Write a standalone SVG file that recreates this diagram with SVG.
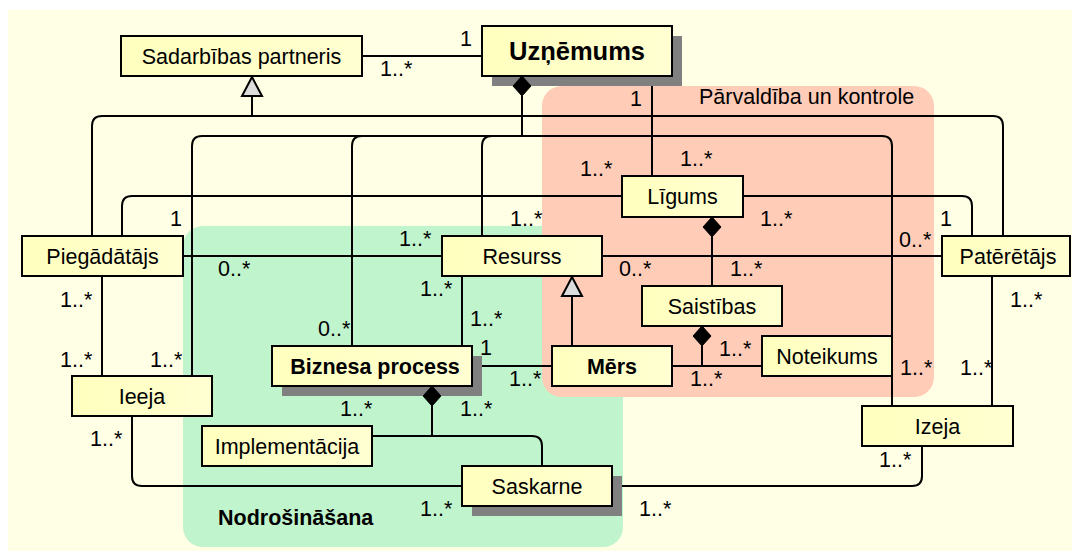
<svg xmlns="http://www.w3.org/2000/svg" width="1072" height="551" viewBox="0 0 1072 551">
<defs>
<linearGradient id="boxg" x1="0" y1="0" x2="1" y2="0">
<stop offset="0" stop-color="#FFFFBE"/>
<stop offset="1" stop-color="#FFFFD2"/>
</linearGradient>
</defs>
<style>
text{font-family:"Liberation Sans",Arial,Helvetica,sans-serif;fill:#000}
.lbl{font-size:21.5px}
.nt{font-size:21.5px;text-anchor:middle}
.bold{font-weight:bold}
.box{fill:url(#boxg);stroke:#000;stroke-width:2}
.shadow{fill:#808080}
.ln{fill:none;stroke:#000;stroke-width:2}
.dia{fill:#000;stroke:#000;stroke-width:1}
.tri{fill:#DCDCDC;stroke:#000;stroke-width:2}
</style>
<rect x="8" y="10" width="1064" height="541" fill="#FFFFE5"/>
<g id="region-nodrosinasana">
<rect x="183" y="226" width="440" height="321" rx="20" fill="#C0F4CC"/>
<text x="218" y="525" class="lbl bold">Nodrošināšana</text>
</g>
<g id="region-parvaldiba">
<rect x="542" y="86" width="392" height="311" rx="20" fill="#FFCCB8"/>
<text x="699" y="104" class="lbl">Pārvaldība un kontrole</text>
</g>
<g id="connectors">
<path class="ln" d="M362,56 H482"/>
<path class="ln" d="M252,96 V116"/>
<path class="ln" d="M252,116 H102 Q92,116 92,126 V236"/>
<path class="ln" d="M252,116 H993 Q1003,116 1003,126 V236"/>
<path class="ln" d="M522,96 V136"/>
<path class="ln" d="M522,136 H202 Q192,136 192,146 V376"/>
<path class="ln" d="M522,136 H362 Q352,136 352,146 V346"/>
<path class="ln" d="M522,136 H492 Q482,136 482,146 V236"/>
<path class="ln" d="M522,136 H882 Q892,136 892,146 V406"/>
<path class="ln" d="M652,76 V176"/>
<path class="ln" d="M622,196 H132 Q122,196 122,206 V236"/>
<path class="ln" d="M743,196 H962 Q972,196 972,206 V236"/>
<path class="ln" d="M183,256 H442"/>
<path class="ln" d="M602,256 H942"/>
<path class="ln" d="M102,276 V376"/>
<path class="ln" d="M462,276 V346"/>
<path class="ln" d="M572,296 V346"/>
<path class="ln" d="M472,366 H552"/>
<path class="ln" d="M712,237 V286"/>
<path class="ln" d="M702,346 V366"/>
<path class="ln" d="M672,366 H762"/>
<path class="ln" d="M992,276 V406"/>
<path class="ln" d="M432,406 V436"/>
<path class="ln" d="M372,436 H532 Q542,436 542,446 V466"/>
<path class="ln" d="M132,416 V476 Q132,486 142,486 H462"/>
<path class="ln" d="M612,486 H912 Q922,486 922,476 V446"/>
</g>
<g id="node-sadarbibas-partneris">
<rect class="box" x="121" y="36" width="241" height="40"/>
<text class="nt" x="241.5" y="63.5">Sadarbības partneris</text>
</g>
<g id="node-uznemums">
<rect class="shadow" x="492" y="36" width="190" height="50"/>
<rect class="box" x="482" y="26" width="190" height="50"/>
<text class="nt bold" x="577" y="60" style="font-size:25.5px">Uzņēmums</text>
</g>
<g id="node-ligums">
<rect class="box" x="622" y="176" width="121" height="41"/>
<text class="nt" x="682.5" y="204">Līgums</text>
</g>
<g id="node-piegadatajs">
<rect class="box" x="22" y="236" width="161" height="40"/>
<text class="nt" x="102.5" y="264">Piegādātājs</text>
</g>
<g id="node-resurss">
<rect class="box" x="442" y="236" width="160" height="40"/>
<text class="nt" x="522" y="264">Resurss</text>
</g>
<g id="node-pateretajs">
<rect class="box" x="942" y="236" width="128" height="40"/>
<text class="nt" x="1008" y="264">Patērētājs</text>
</g>
<g id="node-saistibas">
<rect class="box" x="642" y="286" width="140" height="40"/>
<text class="nt" x="712" y="314">Saistības</text>
</g>
<g id="node-noteikums">
<rect class="box" x="762" y="336" width="130" height="40"/>
<text class="nt" x="827" y="364">Noteikums</text>
</g>
<g id="node-mers">
<rect class="box" x="552" y="346" width="120" height="40"/>
<text class="nt bold" x="612" y="374">Mērs</text>
</g>
<g id="node-biznesa-process">
<rect class="shadow" x="282" y="356" width="200" height="40"/>
<rect class="box" x="272" y="346" width="200" height="40"/>
<text class="nt bold" x="375" y="374">Biznesa process</text>
</g>
<g id="node-ieeja">
<rect class="box" x="72" y="376" width="140" height="40"/>
<text class="nt" x="142" y="404">Ieeja</text>
</g>
<g id="node-implementacija">
<rect class="box" x="202" y="426" width="170" height="40"/>
<text class="nt" x="287" y="454">Implementācija</text>
</g>
<g id="node-saskarne">
<rect class="shadow" x="472" y="476" width="150" height="40"/>
<rect class="box" x="462" y="466" width="150" height="40"/>
<text class="nt" x="537" y="494">Saskarne</text>
</g>
<g id="node-izeja">
<rect class="box" x="862" y="406" width="151" height="40"/>
<text class="nt" x="937.5" y="434">Izeja</text>
</g>
<g id="connector-ends">
<polygon class="tri" points="252,77 242,96 262,96"/>
<polygon class="tri" points="572,277 562,296 582,296"/>
<polygon class="dia" points="522,76 531,86 522,96 513,86"/>
<polygon class="dia" points="712,217 721,227 712,237 703,227"/>
<polygon class="dia" points="702,326 711,336 702,346 693,336"/>
<polygon class="dia" points="432,386 441,396 432,406 423,396"/>
</g>
<g id="multiplicities">
<text class="lbl" x="460" y="46">1</text>
<text class="lbl" x="380" y="76">1..*</text>
<text class="lbl" x="630" y="106">1</text>
<text class="lbl" x="680" y="166">1..*</text>
<text class="lbl" x="580" y="176">1..*</text>
<text class="lbl" x="170" y="226">1</text>
<text class="lbl" x="760" y="226">1..*</text>
<text class="lbl" x="940" y="226">1</text>
<text class="lbl" x="510" y="226">1..*</text>
<text class="lbl" x="399" y="246">1..*</text>
<text class="lbl" x="899" y="247">0..*</text>
<text class="lbl" x="218" y="276">0..*</text>
<text class="lbl" x="619" y="276">0..*</text>
<text class="lbl" x="730" y="276">1..*</text>
<text class="lbl" x="60" y="307">1..*</text>
<text class="lbl" x="1010" y="307">1..*</text>
<text class="lbl" x="420" y="296">1..*</text>
<text class="lbl" x="470" y="326">1..*</text>
<text class="lbl" x="318" y="336">0..*</text>
<text class="lbl" x="480" y="355">1</text>
<text class="lbl" x="719" y="356">1..*</text>
<text class="lbl" x="60" y="367">1..*</text>
<text class="lbl" x="150" y="367">1..*</text>
<text class="lbl" x="900" y="375">1..*</text>
<text class="lbl" x="960" y="375">1..*</text>
<text class="lbl" x="509" y="386">1..*</text>
<text class="lbl" x="690" y="386">1..*</text>
<text class="lbl" x="340" y="416">1..*</text>
<text class="lbl" x="460" y="416">1..*</text>
<text class="lbl" x="90" y="446">1..*</text>
<text class="lbl" x="879" y="467">1..*</text>
<text class="lbl" x="420" y="516">1..*</text>
<text class="lbl" x="639" y="516">1..*</text>
</g>
</svg>
